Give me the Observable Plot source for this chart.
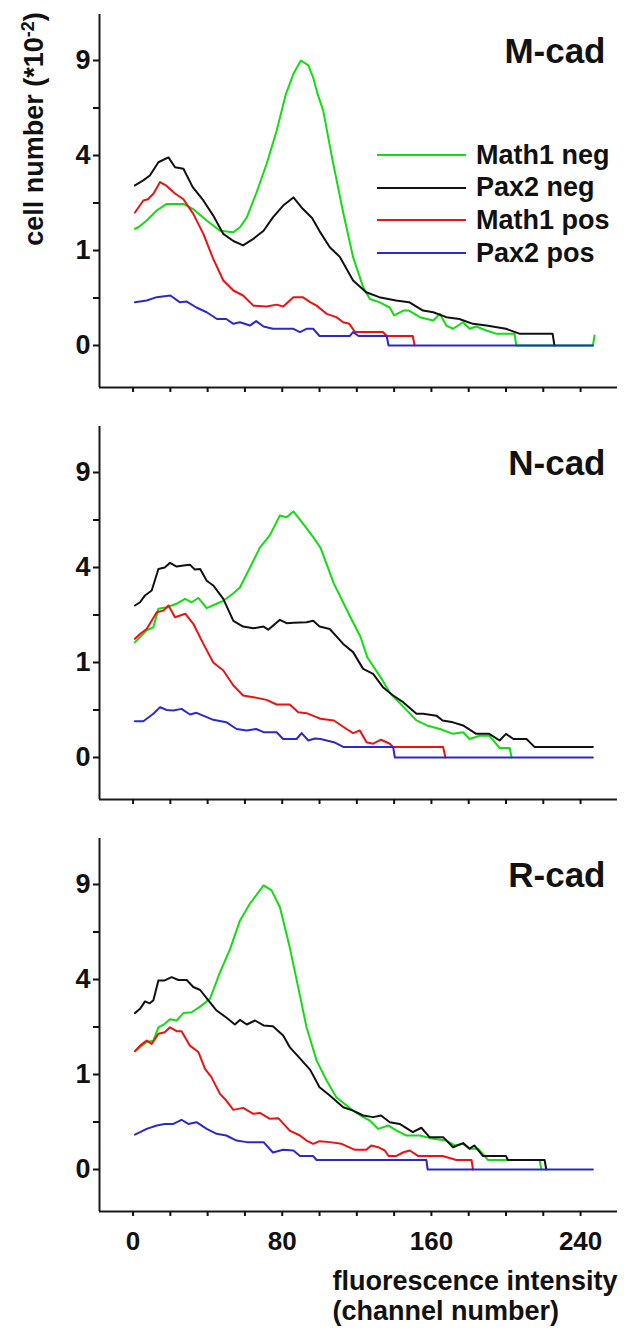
<!DOCTYPE html>
<html><head><meta charset="utf-8">
<script src="https://cdn.jsdelivr.net/npm/d3@7"></script>
<script src="https://cdn.jsdelivr.net/npm/@observablehq/plot@0.6"></script>
<style>
body{margin:0;background:#fff;}
#chart{position:relative;width:624px;height:1330px;font-family:"Liberation Sans",Arial,sans-serif;font-weight:bold;color:#111;}
#chart svg{display:block;}
.legend{position:absolute;left:377px;top:138.6px;}
.legend .row{display:flex;align-items:center;height:32.7px;font-size:27px;line-height:32.7px;white-space:nowrap;}
.legend .sw{width:89px;height:0;border-top:2px solid;margin-right:10px;}
</style></head><body><div id="chart"></div>
<script>
// ---- categories / labels ----
const seriesNames = ["Math1 neg", "Pax2 neg", "Math1 pos", "Pax2 pos"];
const seriesColors = ["#11dd11", "#111111", "#ee1111", "#2a2acc"];
const panelTitles = ["M-cad", "N-cad", "R-cad"];
const yTicks = [0, 1, 4, 9];
const yMinorTicks = [0.25, 2.25, 6.25];
const xTicks = [0, 20, 40, 60, 80, 100, 120, 140, 160, 180, 200, 220, 240];
const xLabelTicks = [0, 80, 160, 240];
const yLabel = "cell number (*10-2)";
const xLabel = "fluorescence intensity\n(channel number)";
const xDomain = [-18, 259.8];
const yDomain = [-0.1955, 12.14];

// ---- data: [channel, cell number (*10^-2)] ----
const mcadMath1Neg = [[1,1.51],[2.9,1.55],[7.3,1.73],[12.7,2.02],[18,2.22],[27,2.22],[32,2.07],[39.5,1.73],[46.6,1.46],[53.8,1.42],[57.3,1.55],[61,1.82],[66,2.56],[71.6,3.65],[77,5.11],[82,7.02],[86,8.18],[90,9.0],[94,8.7],[96.6,7.95],[99,7.0],[102,6.1],[107,3.8],[112.8,1.93],[118,0.865],[123.4,0.377],[127,0.24],[132,0.208],[137.7,0.16],[140,0.10],[145,0.135],[148,0.135],[153.8,0.089],[161,0.069],[164.5,0.111],[168,0.044],[171.6,0.031],[177,0.06],[180.5,0.031],[184,0.04],[189.5,0.025],[195,0.015],[204.6,0.015],[205.5,0],[246.6,0],[247.5,0.011]];
const mcadPax2Neg = [[1,2.84],[5.5,3.02],[9,3.2],[13.6,3.72],[19,3.92],[22.5,3.52],[27,3.46],[32,2.78],[37.7,2.33],[43,1.87],[48.4,1.38],[53.8,1.21],[59,1.11],[64.5,1.26],[70,1.46],[75,1.82],[80.5,2.17],[86,2.43],[91,2.07],[96,1.8],[100,1.45],[105.5,1.07],[111,0.865],[118,0.468],[125,0.314],[132,0.259],[141,0.225],[148,0.208],[155.5,0.135],[161,0.1225],[168,0.089],[175,0.078],[182.3,0.052],[189.5,0.044],[200,0.031],[207.5,0.015],[225,0.015],[226,0]];
const mcadMath1Pos = [[1,1.96],[5.5,2.33],[8,2.37],[11,2.56],[14.5,2.96],[18,2.82],[22.5,2.56],[27,2.37],[32.3,1.92],[37.7,1.38],[43,0.83],[48.4,0.468],[53.8,0.335],[59,0.277],[64.5,0.176],[71.6,0.168],[77,0.185],[80.5,0.168],[86,0.259],[91,0.259],[95,0.208],[98.4,0.176],[103.8,0.111],[109,0.089],[112.7,0.06],[116,0.052],[119,0.02],[134,0.02],[136,0.01],[150,0.01],[151,0]];
const mcadPax2Pos = [[1,0.208],[7.3,0.225],[12.7,0.259],[20,0.277],[25,0.208],[28.8,0.214],[34,0.16],[39.5,0.1225],[45,0.078],[50,0.078],[53.8,0.052],[57.3,0.06],[62.7,0.044],[66,0.066],[70,0.04],[75,0.031],[86,0.031],[89.5,0.02],[93,0.031],[96.6,0.031],[100,0.01],[116.3,0.01],[118,0.02],[121,0.01],[136,0.01],[137,0],[246.6,0]];

const ncadMath1Neg = [[1,1.47],[3.75,1.61],[7.3,1.79],[10.9,1.88],[13.6,2.45],[18,2.5],[23.4,2.62],[27.9,2.79],[31.4,2.67],[35,2.82],[39.5,2.47],[44.8,2.62],[48.4,2.72],[53.8,2.99],[57.3,3.2],[62.7,4.0],[68,4.88],[73.4,5.48],[78.75,6.49],[82.3,6.4],[86,6.71],[91.25,6.05],[96.6,5.38],[100.5,4.88],[107.7,3.35],[116.6,2.18],[122,1.61],[125.6,1.115],[132.7,0.716],[138,0.449],[143.5,0.319],[152,0.152],[157.6,0.114],[164.6,0.09],[171.6,0.062],[177,0.071],[180.5,0.038],[186,0.053],[191,0.053],[196.6,0.01],[202,0.01],[203,0]];
const ncadPax2Neg = [[1,2.56],[3.75,2.67],[6.4,2.91],[10,3.09],[13.6,3.94],[17,4.0],[19.8,4.2],[23.4,4.04],[27,4.08],[30.5,4.12],[33,3.92],[36,3.94],[39.5,3.46],[43,3.28],[48.4,2.79],[53.8,2.07],[59,1.9],[64.5,1.85],[70,1.9],[72.5,1.81],[78.75,2.1],[82.3,2.0],[86,2.01],[93,2.03],[96.6,2.07],[100,1.9],[105.5,1.83],[112.7,1.43],[118,1.23],[123.4,0.87],[128.75,0.774],[134,0.548],[139.5,0.426],[145,0.336],[152,0.212],[155.6,0.212],[162.7,0.194],[166,0.152],[171.6,0.137],[177,0.114],[184,0.062],[191,0.062],[196.6,0.032],[200,0.062],[204,0.038],[211,0.038],[215.4,0.012],[246.6,0.012]];
const ncadMath1Pos = [[1,1.56],[3.75,1.69],[7.3,1.83],[12.7,2.34],[16.25,2.39],[19,2.56],[22.5,2.18],[28,2.29],[32.3,1.98],[37.7,1.43],[43,1.0],[48.4,0.839],[53.8,0.575],[59,0.426],[64.5,0.403],[71.6,0.368],[77,0.311],[84,0.311],[88.6,0.228],[93,0.218],[98.4,0.181],[100.5,0.166],[107.7,0.152],[114.5,0.09],[118,0.066],[121.6,0.081],[125.2,0.026],[128.75,0.021],[133,0.035],[137.7,0.021],[139.5,0.012],[166.3,0.012],[167.5,0]];
const ncadPax2Pos = [[1,0.146],[5.5,0.146],[10.9,0.212],[14.5,0.281],[18,0.25],[21.6,0.245],[26,0.262],[30.5,0.205],[34,0.221],[39.5,0.181],[43,0.157],[50,0.138],[55.5,0.09],[61,0.081],[66,0.09],[70,0.071],[77,0.071],[80.5,0.038],[87.7,0.038],[90.4,0.066],[94,0.032],[97.5,0.04],[100.5,0.038],[107.7,0.026],[113,0.012],[139.5,0.012],[140.4,0],[246.6,0]];

const rcadMath1Neg = [[1,1.55],[3.75,1.66],[7.3,1.8],[10.9,1.84],[13.6,2.24],[17,2.35],[19.8,2.5],[23.4,2.46],[27,2.71],[31.4,2.74],[36,2.94],[41.25,3.23],[46.6,4.31],[52,5.38],[57.3,6.86],[62.7,7.84],[66,8.32],[70,8.94],[74.3,8.63],[78.75,7.62],[84,5.48],[89.5,3.35],[93,2.25],[98.4,1.32],[103.8,0.878],[109,0.578],[114.5,0.454],[118,0.384],[123.4,0.304],[127,0.266],[131.4,0.183],[137,0.214],[141.3,0.168],[146.6,0.128],[153.8,0.128],[161,0.104],[168,0.093],[172.5,0.064],[177,0.073],[180.5,0.048],[185,0.048],[190.4,0.01],[218,0.01],[219,0]];
const rcadPax2Neg = [[1,2.71],[3.75,2.86],[6.4,3.13],[9,3.06],[10.9,3.17],[13.6,3.96],[17,3.96],[20.7,4.1],[24.3,3.98],[28.75,3.98],[32.3,3.69],[36,3.57],[40.4,3.17],[44.8,2.8],[50,2.56],[54.6,2.33],[57.3,2.48],[61,2.33],[65.4,2.46],[70,2.3],[75,2.27],[80.5,1.99],[84,1.66],[89.5,1.37],[95,1.1],[100,0.75],[105.5,0.607],[112.7,0.43],[118,0.384],[123.4,0.323],[128.75,0.304],[133,0.323],[137.7,0.248],[143,0.23],[150,0.154],[154.6,0.193],[159,0.116],[166.3,0.116],[171.6,0.055],[177,0.077],[180.5,0.048],[183,0.064],[187.7,0.02],[200,0.02],[201,0.01],[220.7,0.01],[221.6,0]];
const rcadMath1Pos = [[1,1.55],[3.75,1.7],[7.3,1.84],[10,1.75],[13.6,2.04],[17,2.09],[19.8,2.24],[23.4,2.12],[26,2.12],[30.5,1.7],[35,1.53],[38.6,1.12],[42,0.945],[46.6,0.634],[50,0.527],[53.8,0.394],[59,0.421],[64.5,0.343],[68,0.355],[73.4,0.284],[77.9,0.292],[84,0.168],[89.5,0.128],[93,0.093],[96.6,0.073],[100,0.089],[105.5,0.083],[111.8,0.073],[119,0.043],[125,0.043],[127.8,0.064],[131.4,0.055],[135,0.04],[137,0.02],[141,0.02],[145,0.033],[148.4,0.04],[153,0.02],[166,0.02],[173.4,0.01],[181.5,0.01],[182.3,0]];
const rcadPax2Pos = [[1,0.135],[3.75,0.154],[7.3,0.183],[12.7,0.214],[17,0.23],[21.6,0.23],[26,0.274],[29.6,0.23],[34,0.248],[39.5,0.183],[44.8,0.141],[50,0.128],[55.5,0.093],[61,0.083],[70,0.083],[75,0.032],[80.5,0.043],[86,0.04],[89.5,0.02],[96.6,0.02],[98.4,0.01],[157.3,0.01],[158,0],[246.6,0]];

const panels = [
  [mcadMath1Neg, mcadPax2Neg, mcadMath1Pos, mcadPax2Pos],
  [ncadMath1Neg, ncadPax2Neg, ncadMath1Pos, ncadPax2Pos],
  [rcadMath1Neg, rcadPax2Neg, rcadMath1Pos, rcadPax2Pos]
];

const chart = document.getElementById("chart");
const font = "'Liberation Sans', Arial, sans-serif";

panels.forEach((series, i) => {
  const last = i === panels.length - 1;
  const height = last ? 506 : 412;
  const rows = [];
  series.forEach((arr, s) => arr.forEach(([ch, v]) => rows.push({ch, v, series: seriesNames[s]})));
  const marks = [
    Plot.line(rows, {x: "ch", y: "v", z: "series", stroke: "series", strokeWidth: 2, strokeLinejoin: "round"}),
    Plot.ruleX([xDomain[0]], {stroke: "#1a1a1a", strokeWidth: 2}),
    Plot.ruleY([yDomain[0]], {stroke: "#1a1a1a", strokeWidth: 2}),
    Plot.axisY({ticks: yTicks, tickSize: 6, tickPadding: 3, fontSize: 27, fontWeight: "bold", strokeWidth: 2, label: null}),
    Plot.axisY({ticks: yMinorTicks, tickSize: 6, tickFormat: () => "", strokeWidth: 2, label: null}),
    Plot.axisX({ticks: xTicks, tickSize: 5, tickPadding: 15, fontSize: 26, fontWeight: "bold", strokeWidth: 2, label: null,
      tickFormat: last ? (d => xLabelTicks.includes(d) ? String(d) : "") : () => ""}),
    Plot.text([panelTitles[i]], {text: d => d, frameAnchor: "top-right", textAnchor: "end", lineAnchor: "bottom",
      dx: -12, dy: 48, fontSize: 35, fontWeight: "bold"})
  ];
  if (i === 0) {
    marks.push(Plot.text([yLabel], {text: d => d, frameAnchor: "top-left", rotate: -90, textAnchor: "middle",
      lineAnchor: "bottom", dx: -57, dy: 114.5, fontSize: 27, fontWeight: "bold"}));
  }
  if (last) {
    marks.push(Plot.text([xLabel], {text: d => d, frameAnchor: "bottom-left", textAnchor: "start", lineAnchor: "top",
      lineHeight: 1.11, dx: 233, dy: 56.8, fontSize: 27, fontWeight: "bold"}));
  }
  const svg = Plot.plot({
    width: 624,
    height,
    marginLeft: 99,
    marginRight: 7,
    marginTop: 14,
    marginBottom: height - 387,
    style: {fontFamily: font, fontWeight: "bold", color: "#111", background: "white", overflow: "visible"},
    x: {domain: xDomain},
    y: {type: "sqrt", domain: yDomain},
    color: {domain: seriesNames, range: seriesColors},
    marks
  });
  if (i === 0) {
    d3.select(svg).selectAll("text").filter(function () { return this.textContent === yLabel; }).each(function () {
      const t = d3.select(this);
      t.text(null);
      t.append("tspan").text("cell number (*10");
      t.append("tspan").attr("dy", -9).attr("font-size", 18).text("-2");
      t.append("tspan").attr("dy", 9).text(")");
    });
  }
  chart.appendChild(svg);
});

// legend (first panel)
const legend = d3.select(chart).append("div").attr("class", "legend");
seriesNames.forEach((name, s) => {
  const row = legend.append("div").attr("class", "row");
  row.append("span").attr("class", "sw").style("border-top-color", seriesColors[s]);
  row.append("span").text(name);
});
</script></body></html>
